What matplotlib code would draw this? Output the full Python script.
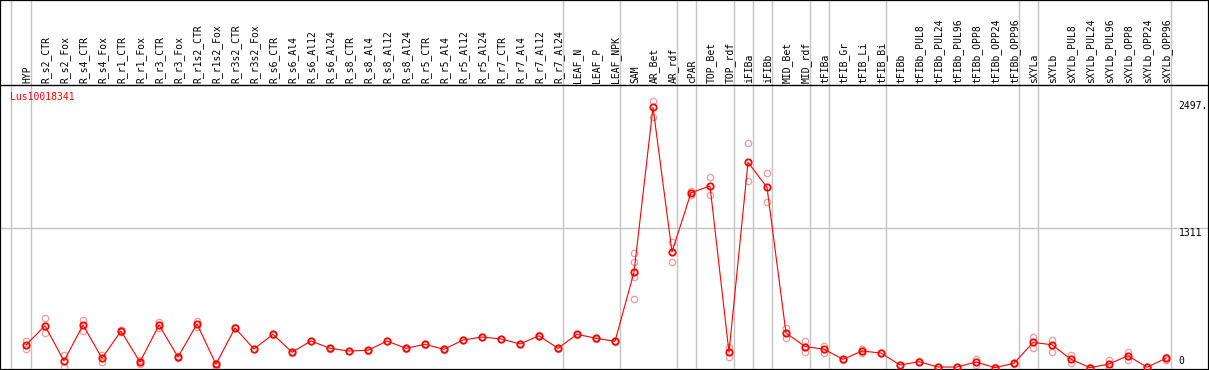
import numpy as np
import matplotlib
matplotlib.use("Agg")
import matplotlib.pyplot as plt

# ---------------------------------------------------------------------------
# Data
# ---------------------------------------------------------------------------
GENE = "Lus10018341"

categories = [
    "HYP", "R_s2_CTR", "R_s2_Fox", "R_s4_CTR", "R_s4_Fox", "R_r1_CTR", "R_r1_Fox",
    "R_r3_CTR", "R_r3_Fox", "R_r1s2_CTR", "R_r1s2_Fox", "R_r3s2_CTR", "R_r3s2_Fox",
    "R_s6_CTR", "R_s6_Al4", "R_s6_Al12", "R_s6_Al24", "R_s8_CTR", "R_s8_Al4",
    "R_s8_Al12", "R_s8_Al24", "R_r5_CTR", "R_r5_Al4", "R_r5_Al12", "R_r5_Al24",
    "R_r7_CTR", "R_r7_Al4", "R_r7_Al12", "R_r7_Al24", "LEAF_N", "LEAF_P", "LEAF_NPK",
    "SAM", "AR_Bet", "AR_rdf", "cPAR", "TOP_Bet", "TOP_rdf", "iFIBa", "iFIBb",
    "MID_Bet", "MID_rdf", "tFIBa", "tFIB_Gr", "tFIB_Li", "tFIB_Bi", "tFIBb",
    "tFIBb_PUL8", "tFIBb_PUL24", "tFIBb_PUL96", "tFIBb_OPP8", "tFIBb_OPP24",
    "tFIBb_OPP96", "sXYLa", "sXYLb", "sXYLb_PUL8", "sXYLb_PUL24", "sXYLb_PUL96",
    "sXYLb_OPP8", "sXYLb_OPP24", "sXYLb_OPP96",
]

means = [
    215, 396, 66, 403, 91, 346, 56, 403, 103, 412, 35, 375, 178,
    316, 147, 253, 184, 159, 166, 253, 184, 222, 175, 262, 290,
    272, 225, 302, 184, 316, 278, 250,
    896, 2441, 1086, 1641, 1704, 147, 1926, 1692,
    328, 201, 176, 81, 159, 140, 28,
    59, 9, 9, 56, 3, 44,
    239, 218, 81, 3, 37, 115, 7, 91,
]

replicates = [
    [256, 180], [470, 325], [122, 10], [452, 350], [125, 60], [352, 340], [75, 36],
    [430, 378], [112, 95], [440, 384], [50, 22], [380, 370], [182, 174],
    [320, 312], [151, 143], [257, 249], [188, 180], [163, 155], [170, 162],
    [257, 249], [188, 180], [226, 218], [179, 171], [266, 258], [294, 286],
    [276, 268], [229, 221], [306, 298], [188, 180], [320, 312], [282, 274], [254, 246],
    [1074, 990, 855, 643], [2497, 2353], [1183, 990], [1657, 1620], [1786, 1617],
    [199, 106], [2104, 1748], [1823, 1551],
    [372, 278], [251, 153], [210, 140], [88, 75], [181, 138], [145, 136], [32, 24],
    [63, 55], [12, 6], [12, 6], [80, 32], [5, 1], [50, 38],
    [287, 184], [262, 153], [122, 44], [5, 1], [72, 2], [153, 75], [9, 5], [104, 78],
]

# separators are drawn right after these categories (plus one before the first)
separators_after = [
    "HYP", "R_r7_Al24", "LEAF_NPK", "AR_rdf", "cPAR", "TOP_rdf", "iFIBa", "iFIBb",
    "MID_rdf", "tFIBa", "tFIB_Bi", "tFIBb_OPP96", "sXYLa", "sXYLb_OPP96",
]

value_labels = ["2497.", "1311", "0"]
value_ticks = [2497, 1311, 0]

# ---------------------------------------------------------------------------
# Layout (pixel geometry of the original 1209x370 picture)
# ---------------------------------------------------------------------------
W, H = 1209, 370
X0, DX = 26.0, 19.0          # px of first category, px per category
Y0, KY = 368.0, 0.1068       # px of value 0, px per unit
HEADER_PX = 85.0             # black line under the labels

def px_to_val(p):
    return (Y0 - p) / KY

FONT = "DejaVu Sans Mono"
RED = "#ff0000"
PINK = "#f09a9a"
GRID = "#c4c4c4"

fig = plt.figure(figsize=(W / 100, H / 100), dpi=100)
ax = fig.add_axes([0, 0, 1, 1])
ax.set_xlim(-X0 / DX, (W - X0) / DX)
ax.set_ylim(px_to_val(H), px_to_val(0))
ax.set_xticks([])
ax.set_yticks([])
for s in ax.spines.values():
    s.set_linewidth(1.6)
    s.set_color("black")

x = np.arange(len(categories))

# vertical group separators
sep_x = [-1 + 0.2] + [categories.index(c) + 0.24 for c in separators_after]
for sx in sep_x:
    ax.axvline(sx, color=GRID, lw=1.0, zorder=1)

# horizontal reference line and header line
ax.axhline(1311, color=GRID, lw=1.0, zorder=1)
ax.axhline(px_to_val(HEADER_PX), color="black", lw=1.0, zorder=4)

# category labels
for i, name in enumerate(categories):
    ax.text(i + 0.05, px_to_val(HEADER_PX - 2), name, rotation=90,
            ha="center", va="bottom", fontsize=7, family=FONT, color="black")

# replicate points
for i, reps in enumerate(replicates):
    ax.plot([i] * len(reps), reps, linestyle="none", marker="o", ms=4.6,
            mfc="none", mec=PINK, mew=0.9, zorder=2)

# mean profile
ax.plot(x, means, color=RED, lw=0.8, zorder=3)
ax.plot(x, means, linestyle="none", marker="o", ms=4.6, mfc="none",
        mec=RED, mew=1.3, zorder=3)

# gene name
ax.text(10 / DX - X0 / DX, px_to_val(92), GENE, ha="left", va="top",
        fontsize=7, family=FONT, color=RED)

# value labels on the right
lab_x = (1178.5 - X0) / DX
for lab, v in zip(value_labels, value_ticks):
    if v == 0:
        ax.annotate(lab, (lab_x, v), xytext=(0, 2), textcoords="offset pixels",
                    ha="left", va="bottom", fontsize=7, family=FONT)
    else:
        ax.text(lab_x, v, lab, ha="left", va="top", fontsize=7, family=FONT)

fig.savefig("out.png", dpi=100)
